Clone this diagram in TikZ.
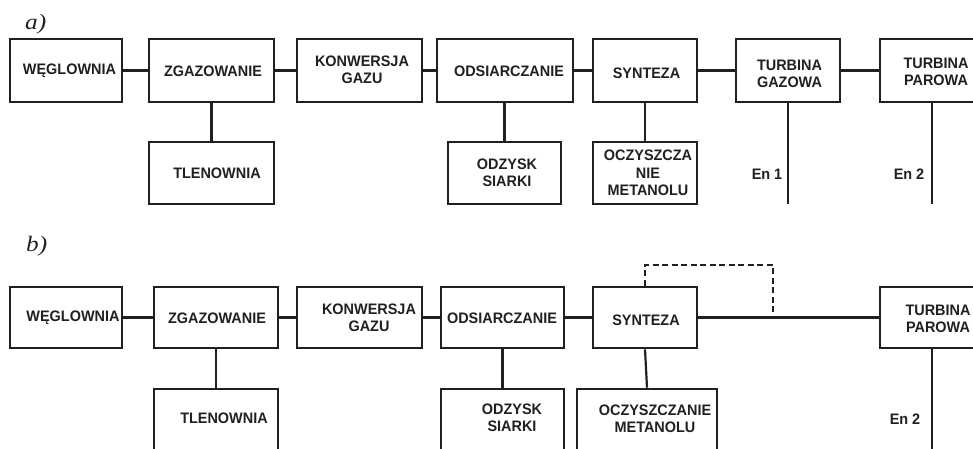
\documentclass[tikz,border=0pt]{standalone}
\usepackage{fontspec}
\setmainfont[FakeStretch=0.95]{Liberation Sans}
\newfontfamily\labfont[FakeStretch=1.15]{Liberation Serif}
\definecolor{ink}{HTML}{231F20}
\tikzset{
  box/.style={draw=ink, line width=2.6pt, rectangle, inner sep=0pt},
  txt/.style={font=\fontsize{15.2}{17.3}\selectfont\bfseries, align=center, inner sep=0pt, text=ink},
  conn/.style={draw=ink, line width=2.2pt},
  dconn/.style={draw=ink, line width=2.2pt, dash pattern=on 6pt off 3.5pt},
  lab/.style={font=\labfont\itshape\fontsize{22}{24}\selectfont, inner sep=0pt, anchor=base west, text=ink}
}
\begin{document}
\begin{tikzpicture}[x=1pt,y=-1pt]
\clip (0,0) rectangle (973,448);
\fill[white] (0,0) rectangle (973,448);
% labels
\node[lab] (la) at (25,29) {a)};
\node[lab] (lb) at (26,251) {b)};
% ---------- row a ----------
\node[box, minimum width=112pt, minimum height=63pt] (wa) at (66,70.5) {};
\node[box, minimum width=125pt, minimum height=63pt] (za) at (211.5,70.5) {};
\node[box, minimum width=125pt, minimum height=63pt] (ka) at (359.5,70.5) {};
\node[box, minimum width=136pt, minimum height=63pt] (oa) at (505,70.5) {};
\node[box, minimum width=104pt, minimum height=63pt] (sa) at (645,70.5) {};
\node[box, minimum width=104pt, minimum height=63pt] (ga) at (788,70.5) {};
\node[box, minimum width=112pt, minimum height=63pt] (pa) at (936,70.5) {};
\node[box, minimum width=125pt, minimum height=62pt] (ta) at (211.5,173) {};
\node[box, minimum width=113pt, minimum height=62pt] (da) at (504.5,173) {};
\node[box, minimum width=104pt, minimum height=62pt] (ma) at (645,173) {};
\node[txt] (wat) at (69.5,71) {WĘGLOWNIA};
\node[txt] (zat) at (213,71) {ZGAZOWANIE};
\node[txt] (kat) at (362,69.5) {KONWERSJA\\GAZU};
\node[txt] (oat) at (509,71) {ODSIARCZANIE};
\node[txt] (sat) at (646.5,73) {SYNTEZA};
\node[txt] (gat) at (789.5,74) {TURBINA\\GAZOWA};
\node[txt] (pat) at (936,71.5) {TURBINA\\PAROWA};
\node[txt] (tat) at (217,173) {TLENOWNIA};
\node[txt] (dat) at (507,173) {ODZYSK\\SIARKI};
\node[txt] (mat) at (648,173) {OCZYSZCZA\\NIE\\METANOLU};
\node[txt] (en1) at (767,174) {En 1};
\node[txt] (en2a) at (909,174) {En 2};
\coordinate (e1) at (788,204);
\coordinate (e2) at (932,204);
\draw[conn] (wa.east) -- (za.west);
\draw[conn] (za.east) -- (ka.west);
\draw[conn] (ka.east) -- (oa.west);
\draw[conn] (oa.east) -- (sa.west);
\draw[conn] (sa.east) -- (ga.west);
\draw[conn] (ga.east) -- (pa.west);
\draw[conn] (za.south) -- (ta.north);
\draw[conn] (da.north |- oa.south) -- (da.north);
\draw[conn] (sa.south) -- (ma.north);
\draw[conn] (ga.south) -- (e1);
\draw[conn] (pa.south -| e2) -- (e2);
% ---------- row b ----------
\node[box, minimum width=112pt, minimum height=61pt] (wb) at (66,317.5) {};
\node[box, minimum width=124pt, minimum height=61pt] (zb) at (216,317.5) {};
\node[box, minimum width=125pt, minimum height=61pt] (kb) at (359.5,317.5) {};
\node[box, minimum width=123pt, minimum height=61pt] (ob) at (502.5,317.5) {};
\node[box, minimum width=104pt, minimum height=61pt] (sb) at (645,317.5) {};
\node[box, minimum width=112pt, minimum height=61pt] (pb) at (936,317.5) {};
\node[box, minimum width=124pt, minimum height=63pt] (tb) at (216,420.5) {};
\node[box, minimum width=123pt, minimum height=63pt] (db) at (502.5,420.5) {};
\node[box, minimum width=140pt, minimum height=63pt] (mb) at (647,420.5) {};
\node[txt] (wbt) at (73,318) {WĘGLOWNIA};
\node[txt] (zbt) at (217,318) {ZGAZOWANIE};
\node[txt] (kbt) at (369,317.5) {KONWERSJA\\GAZU};
\node[txt] (obt) at (502,318) {ODSIARCZANIE};
\node[txt] (sbt) at (646,320) {SYNTEZA};
\node[txt] (pbt) at (938,319) {TURBINA\\PAROWA};
\node[txt] (tbt) at (224,418) {TLENOWNIA};
\node[txt] (dbt) at (512,418) {ODZYSK\\SIARKI};
\node[txt] (mbt) at (655,419) {OCZYSZCZANIE\\METANOLU};
\node[txt] (en2b) at (905,419) {En 2};
\coordinate (e3) at (932,452);
\coordinate (dj) at (773,317.5);
\coordinate (dt) at (773,265);
\draw[conn] (wb.east) -- (zb.west);
\draw[conn] (zb.east) -- (kb.west);
\draw[conn] (kb.east) -- (ob.west);
\draw[conn] (ob.east) -- (sb.west);
\draw[conn] (sb.east) -- (pb.west);
\draw[conn] (zb.south) -- (tb.north);
\draw[conn] (ob.south) -- (db.north);
\draw[conn] (sb.south) -- (mb.north);
\draw[conn] (pb.south -| e3) -- (e3);
\draw[dconn] (sb.north) |- (dt) -- (dj);
\end{tikzpicture}
\end{document}
